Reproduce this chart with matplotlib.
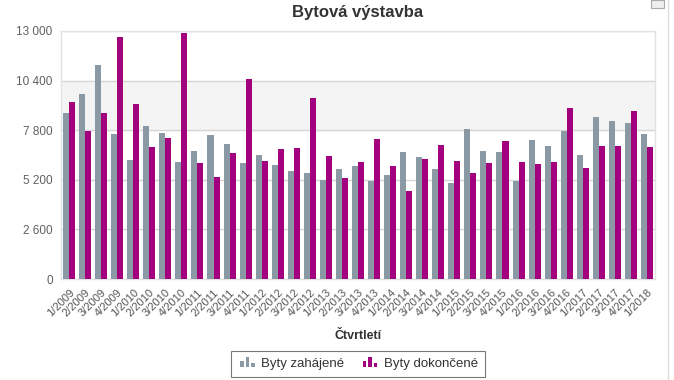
import numpy as np
import matplotlib
matplotlib.use("Agg")
import matplotlib.pyplot as plt
import matplotlib.patches as mpatches
from matplotlib.legend_handler import HandlerBase
from matplotlib.ticker import FuncFormatter

plt.rcParams["font.family"] = ["Liberation Sans", "DejaVu Sans"]

# data
quarters = [f"{q}/{y}" for y in range(2009, 2018) for q in range(1, 5)] + ["1/2018"]
zahajene = [8690, 9710, 11220, 7590, 6240, 8000, 7640, 6130,
            6690, 7560, 7080, 6100,
            6520, 5980, 5680, 5570,
            5170, 5750, 5940, 5150,
            5430, 6660, 6400, 5770,
            5050, 7860, 6730, 6680,
            5150, 7300, 6960, 7760,
            6500, 8480, 8300, 8160,
            7600]
dokoncene = [9300, 7760, 8690, 12670, 9170, 6900, 7410, 12880,
             6100, 5360, 6590, 10480,
             6200, 6820, 6880, 9500,
             6430, 5280, 6130, 7320,
             5940, 4630, 6270, 7040,
             6200, 5540, 6060, 7230,
             6150, 6050, 6120, 8950,
             5800, 6960, 6960, 8790,
             6900]
series_names = ["Byty zahájené", "Byty dokončené"]
colors = ["#8a99a4", "#a2007f"]
yticks = [0, 2600, 5200, 7800, 10400, 13000]

fig = plt.figure(figsize=(6.74, 3.80), dpi=100)
ax = fig.add_axes([61/674, 1-279/380, (655-61)/674, (279-31)/380])

x = np.arange(len(quarters))
w = 0.375
ax.bar(x - w/2, zahajene, w, color=colors[0], zorder=3, linewidth=0)
ax.bar(x + w/2, dokoncene, w, color=colors[1], zorder=3, linewidth=0)

ax.set_xlim(-0.5, len(quarters) - 0.5)
ax.set_ylim(0, 13000)
ax.axhspan(7800, 10400, color="#f4f4f4", zorder=0)
ax.set_yticks(yticks)
ax.yaxis.set_major_formatter(FuncFormatter(lambda v, p: f"{int(v):,}".replace(",", " ")))
ax.grid(axis="y", color="#d6d6d6", linewidth=1, zorder=1)
ax.set_xticks(x)
ax.set_xticklabels(quarters, rotation=45, ha="right", rotation_mode="anchor",
                   fontsize=8, color="#555555")
ax.tick_params(axis="y", labelsize=8.5, colors="#606060", length=0, pad=6)
ax.tick_params(axis="x", length=0, pad=6)
for s in ax.spines.values():
    s.set_color("#e2e2e2")
    s.set_linewidth(1)

ax.set_xlabel("Čtvrtletí", fontsize=9, fontweight="bold", color="#333333")
ax.xaxis.set_label_coords(0.5, -57/248)
ax.xaxis.label.set_va("center")
fig.text(358/674, 1-13/380, "Bytová výstavba", ha="center", va="center",
         fontsize=12, fontweight="bold", color="#333333")


class BarsIcon(HandlerBase):
    def create_artists(self, legend, orig_handle, xd, yd, width, height, fontsize, trans):
        c = orig_handle.get_facecolor()
        bw = width / 5
        arts = []
        for i, h in enumerate([0.55, 0.85, 0.35]):
            r = mpatches.Rectangle((xd + i * bw * 1.6 + width * 0.15, yd), bw,
                                   height * h * 1.3, facecolor=c, transform=trans)
            arts.append(r)
        return arts


handles = [mpatches.Patch(facecolor=c, label=n) for c, n in zip(colors, series_names)]
leg = fig.legend(handles=handles, loc="center", bbox_to_anchor=(358/674, 1-364/380),
                 ncol=2, frameon=True, fancybox=False, fontsize=9.5,
                 handler_map={mpatches.Patch: BarsIcon()},
                 handlelength=1.3, handletextpad=0.5, columnspacing=1.2,
                 borderpad=0.5)
leg.get_frame().set_edgecolor("#555555")
leg.get_frame().set_linewidth(0.8)
for t in leg.get_texts():
    t.set_color("#333333")

# frame line on the right and the small icon
fig.add_artist(plt.Line2D([668/674, 668/674], [0, 1], color="#dddddd", linewidth=1))
fig.add_artist(mpatches.Rectangle((651/674, 1-8/380), 13/674, 8/380, facecolor="#eeeeee",
                                  edgecolor="#aaaaaa", linewidth=0.8))

fig.savefig("out.png", dpi=100)
